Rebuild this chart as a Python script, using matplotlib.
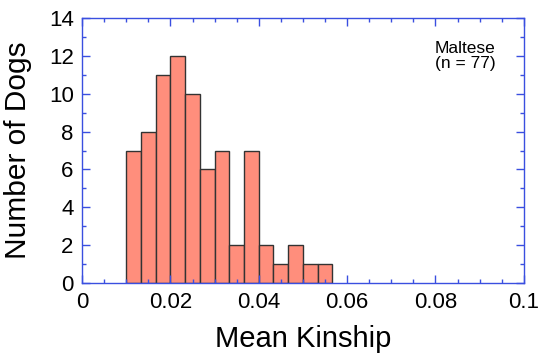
import numpy as np
import matplotlib
matplotlib.use("Agg")
import matplotlib.pyplot as plt
from matplotlib.ticker import MultipleLocator

plt.rcParams['font.family'] = ['Liberation Sans', 'DejaVu Sans']

# histogram of mean kinship, bins of width 1/300 starting at 0.01
bin_edges = 0.01 + np.arange(15) / 300.0
counts = [7, 8, 11, 12, 10, 6, 7, 2, 7, 2, 1, 2, 1, 1]

axis_blue = '#3a4fe0'

fig = plt.figure(figsize=(5.4, 3.53), dpi=100)
ax = fig.add_axes([0.152, 0.199, 0.818, 0.749])

ax.bar(bin_edges[:-1], counts, width=np.diff(bin_edges), align='edge',
       color='#ff8e7c', edgecolor='#333333', linewidth=1.0)

ax.set_xlim(0, 0.1)
ax.set_ylim(0, 14)
ax.set_xticks([0, 0.02, 0.04, 0.06, 0.08, 0.1])
ax.set_xticklabels(['0', '0.02', '0.04', '0.06', '0.08', '0.1'])
ax.xaxis.set_minor_locator(MultipleLocator(0.005))
ax.yaxis.set_major_locator(MultipleLocator(2))
ax.yaxis.set_minor_locator(MultipleLocator(1))

for s in ax.spines.values():
    s.set_color(axis_blue)
    s.set_linewidth(1.0)
ax.tick_params(which='both', direction='in', top=True, right=True,
               color=axis_blue, labelsize=16, labelcolor='black')
ax.tick_params(which='major', length=6, width=1)
ax.tick_params(which='minor', length=3, width=1)
ax.tick_params(axis='x', pad=7)
ax.tick_params(axis='y', pad=6)

ax.set_xlabel('Mean Kinship', fontsize=21, labelpad=8)
ax.set_ylabel('Number of Dogs', fontsize=21.5, labelpad=12)

ax.text(0.799, 0.913, 'Maltese\n(n = 77)', transform=ax.transAxes,
        fontsize=12.5, ha='left', va='top', linespacing=1.0)

fig.savefig('out.png', dpi=100)
